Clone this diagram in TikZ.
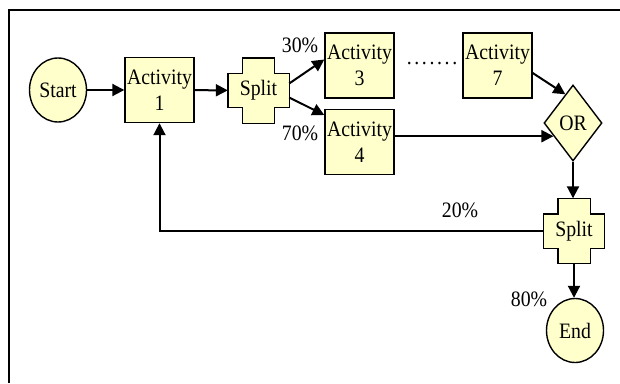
\documentclass[tikz,border=0pt]{standalone}
\usepackage{fontspec}
\setmainfont{Liberation Serif}[FakeStretch=0.9]
\usepackage{xcolor}
\usepackage{tikz}
\usetikzlibrary{shapes.geometric,arrows.meta,backgrounds}
\definecolor{paleyellow}{RGB}{255,255,204}

\begin{document}
\begin{tikzpicture}[x=1pt,y=-1pt,
    font=\fontsize{22}{26}\selectfont,
    actbox/.style={draw=black,fill=paleyellow,line width=1.4pt,minimum width=69pt,minimum height=65pt,inner sep=0pt,align=center},
    ellbox/.style={ellipse,draw=black,fill=paleyellow,line width=1.4pt,minimum width=57pt,minimum height=64pt,inner sep=0pt},
    orbox/.style={diamond,draw=black,fill=paleyellow,line width=1.4pt,minimum width=58pt,minimum height=76pt,inner sep=0pt},
    splitbox/.style={minimum width=61pt,minimum height=65pt,inner sep=0pt},
    flow/.style={-{Triangle[length=12pt,width=12pt]},line width=2pt},
    pct/.style={inner sep=0pt}]
    \def\nx{14.5} %notch of the split cross%
    \def\ny{15.5}
    \useasboundingbox (0,0) rectangle (620,383);
    \draw[line width=2.6pt] (9,383) -- (9,10) -- (620,10); %frame%

    \node[ellbox] (start) at (58,90) {Start};
    \node[actbox] (a1) at (159.5,90) {Activity\\1};
    \node[splitbox] (s1) at (258.5,90.5) {Split};
    \node[actbox] (a3) at (359.5,65.5) {Activity\\3};
    \node[actbox] (a4) at (359.5,142) {Activity\\4};
    \node[actbox] (a7) at (497.5,65.5) {Activity\\7};
    \node[anchor=base] (dots) at (432,64) {\addfontfeature{LetterSpace=12}.......};
    \node[orbox] (or) at (573,123) {OR};
    \node[splitbox] (s2) at (574,231) {Split};
    \node[ellbox] (end) at (575,330.5) {End};

    \begin{scope}[on background layer] %split crosses%
        \foreach \s in {s1,s2}
            \filldraw[fill=paleyellow,draw=black,line width=1.4pt]
                ([xshift=\nx pt]\s.north west) -- ([xshift=-\nx pt]\s.north east)
                -- ([xshift=-\nx pt,yshift=-\ny pt]\s.north east) -- ([yshift=-\ny pt]\s.north east)
                -- ([yshift=\ny pt]\s.south east) -- ([xshift=-\nx pt,yshift=\ny pt]\s.south east)
                -- ([xshift=-\nx pt]\s.south east) -- ([xshift=\nx pt]\s.south west)
                -- ([xshift=\nx pt,yshift=\ny pt]\s.south west) -- ([yshift=\ny pt]\s.south west)
                -- ([yshift=-\ny pt]\s.north west) -- ([xshift=\nx pt,yshift=-\ny pt]\s.north west)
                -- cycle;
    \end{scope}

    \node[pct] (p30) at (300,45) {30\%};
    \node[pct] (p70) at (300,133) {70\%};
    \node[pct] (p20) at (460,210) {20\%};
    \node[pct] (p80) at (529,299) {80\%};

    \draw[flow] (start) -- (a1);
    \draw[flow] (a1) -- (s1);
    \draw[flow] ([yshift=7pt]s1.east) -- ([yshift=6pt]a3.west);
    \draw[flow] ([yshift=-7pt]s1.east) -- ([yshift=27pt]a4.west);
    \draw[flow] ([yshift=-7.5pt]a7.east) -- (or.105);
    \draw[flow] (a4.east |- or.214) -- (or.214);
    \draw[flow] (or.south) -- (or.south |- s2.north);
    \draw[flow] (s2.south) -- (s2.south |- end.north);
    \draw[flow] (s2.west) -| (a1.south); %back loop%
\end{tikzpicture}
\end{document}
